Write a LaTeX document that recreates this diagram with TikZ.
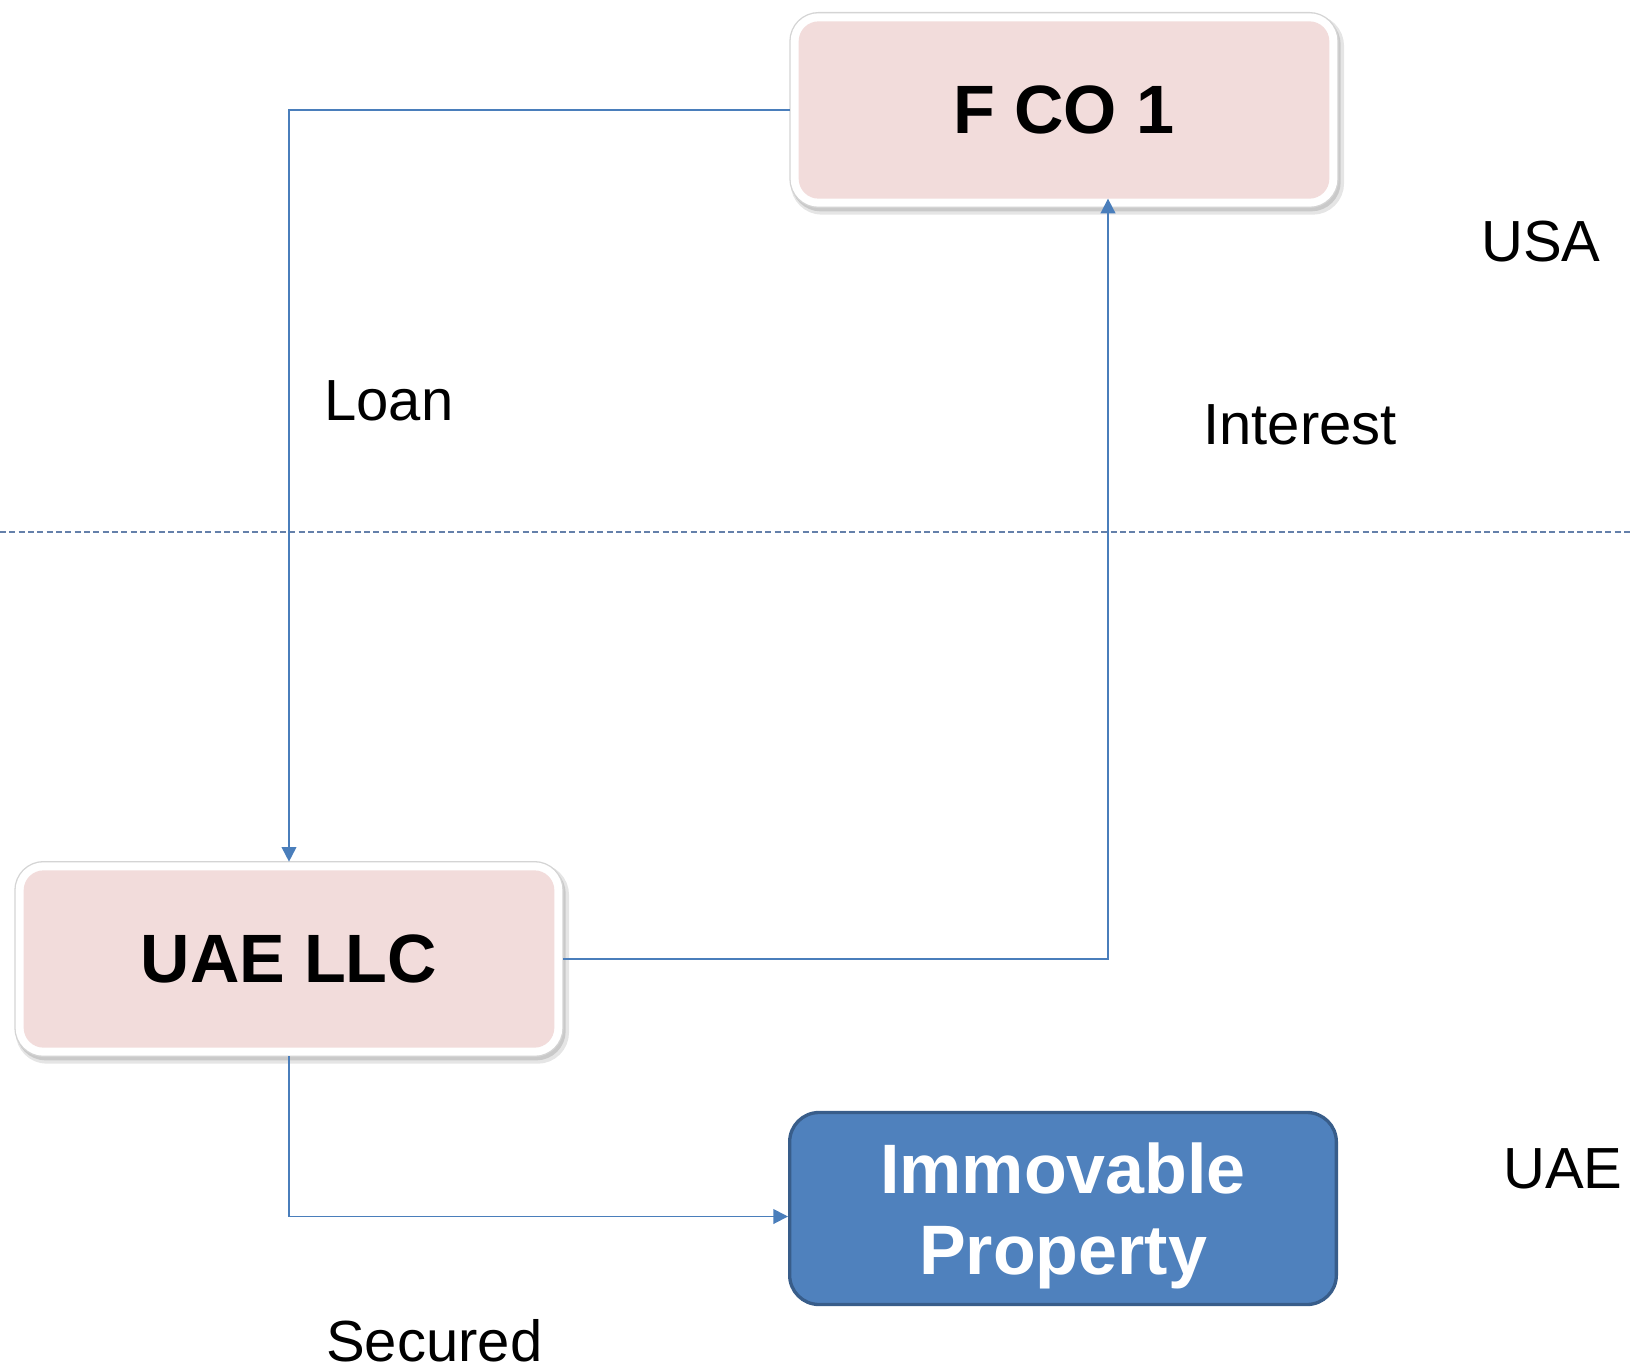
\documentclass[tikz,border=0pt]{standalone}
\usepackage{fontspec}
\setmainfont{Liberation Sans}
\usetikzlibrary{arrows.meta}
\definecolor{pinkfill}{HTML}{F2DCDB}
\definecolor{flowblue}{HTML}{4A7EBB}
\definecolor{propfill}{HTML}{4F81BD}
\definecolor{propedge}{HTML}{385D8A}
\definecolor{borderline}{HTML}{D4D4D4}
\definecolor{sepline}{HTML}{6480AA}
\begin{document}
\begin{tikzpicture}[x=0.75pt,y=-0.75pt,
  entity/.style={
    rounded corners=15pt, minimum width=398pt, minimum height=133pt,
    inner sep=0pt, outer sep=6.5pt,
    font=\fontsize{51.3}{60}\selectfont\bfseries,
    preaction={draw=black, draw opacity=0.10, line width=17pt,
      transform canvas={shift={(2.5pt,-3.5pt)}}},
    preaction={draw=black, draw opacity=0.12, line width=14pt,
      transform canvas={shift={(1.5pt,-2.5pt)}}},
    preaction={draw=borderline, line width=14pt},
    preaction={draw=white, line width=12pt},
    fill=pinkfill},
  property/.style={
    rounded corners=22pt, minimum width=410pt, minimum height=144pt,
    inner sep=0pt, fill=propfill, draw=propedge, line width=2.5pt},
  proptext/.style={inner sep=0pt, text=white, align=center,
    font=\fontsize{52.5}{61}\selectfont\bfseries},
  lbl/.style={inner sep=0pt, anchor=base west,
    font=\fontsize{43.5}{52}\selectfont},
  flow/.style={draw=flowblue, line width=1.4pt,
    -{Triangle[length=11pt,width=11pt]}},
  border/.style={draw=sepline, line width=1.1pt,
    dash pattern=on 4.5pt off 2.5pt}]

\useasboundingbox (0,0) rectangle (1630,1370);

% boundary between the two jurisdictions
\coordinate (bl) at (0,532);
\coordinate (br) at (1630,532);
\draw[border] (bl) -- (br);

% entities
\node[entity] (fco) at (1064,110) {F CO 1};
\node[entity] (uae) at (289,959) {UAE LLC};
\node[property] (imm) at (1063,1208.5) {};
\node[proptext] (immtext) at (1063,1216) {Immovable\\Property};

% labels
\node[lbl] (loan) at (324,420) {Loan};
\node[lbl] (interest) at (1203,444) {Interest};
\node[lbl] (usa) at (1481,261) {USA};
\node[lbl] (uaelbl) at (1503,1188) {UAE};
\node[lbl] (secured) at (326,1361) {Secured};

% flows
\coordinate (ix) at (1108,0);
\coordinate (itip) at ([yshift=6.5pt]fco.south);
\draw[flow] (fco.west) -| (uae.north);
\draw[flow] (uae.east) -| (itip -| ix);
\draw[flow] (uae.south) |- ([yshift=-6pt]imm.west);
\end{tikzpicture}
\end{document}
